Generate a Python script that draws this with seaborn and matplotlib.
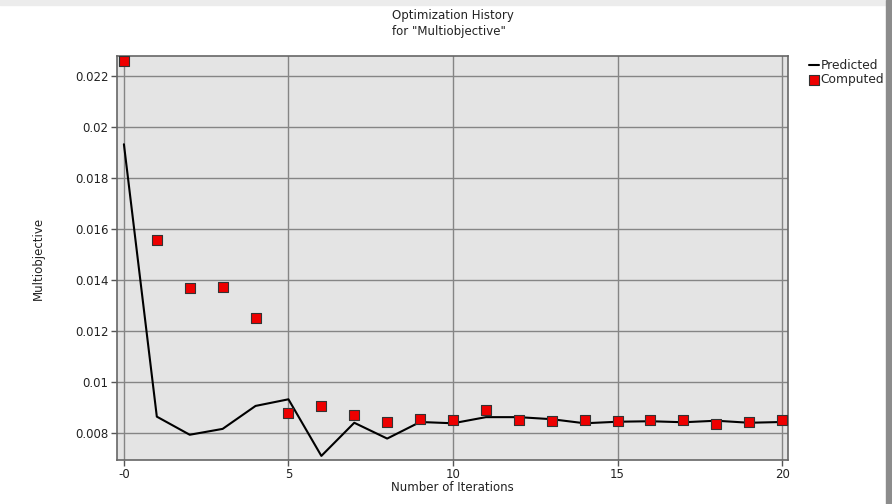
import matplotlib
matplotlib.use("Agg")
import matplotlib.pyplot as plt
import seaborn as sns
import pandas as pd
from matplotlib.patches import Rectangle

iterations = list(range(21))
predicted = [0.01932, 0.00864, 0.00793, 0.00816, 0.00906, 0.00932, 0.0071, 0.0084,
             0.00778, 0.00843, 0.00838, 0.00862, 0.00862, 0.00854, 0.00838, 0.00844,
             0.00846, 0.00842, 0.00848, 0.0084, 0.00843]
computed = [0.0226, 0.01558, 0.01367, 0.01371, 0.01251, 0.0088, 0.00906, 0.00869,
            0.00842, 0.00856, 0.0085, 0.00891, 0.00852, 0.00847, 0.00852, 0.00846,
            0.00852, 0.0085, 0.00837, 0.00843, 0.0085]
x_ticks = [0, 5, 10, 15, 20]
x_tick_labels = ["-0", "5", "10", "15", "20"]
y_ticks = [0.008, 0.010, 0.012, 0.014, 0.016, 0.018, 0.020, 0.022]
y_tick_labels = ["0.008", "0.01", "0.012", "0.014", "0.016", "0.018", "0.02", "0.022"]

df = pd.DataFrame({"Iteration": iterations, "Predicted": predicted, "Computed": computed})

sns.set_style("white")
plt.rcParams["font.family"] = ["DejaVu Sans"]
plt.rcParams["font.size"] = 8.5

fig = plt.figure(figsize=(8.92, 5.04), dpi=100)
fig.patch.set_facecolor("white")
ax = fig.add_axes([117 / 892, 1 - 460 / 504, (788 - 117) / 892, (460 - 56) / 504])
ax.set_facecolor("#e4e4e4")

sns.lineplot(data=df, x="Iteration", y="Predicted", ax=ax, color="black",
             linewidth=1.5, label="Predicted", zorder=3)
sns.scatterplot(data=df, x="Iteration", y="Computed", ax=ax, marker="s", s=45,
                color="#ee0000", edgecolor="#333333", linewidth=0.8,
                label="Computed", zorder=4)

ax.set_xlim(-0.21, 20.18)
ax.set_ylim(0.00694, 0.02278)
ax.set_xticks(x_ticks)
ax.set_xticklabels(x_tick_labels)
ax.set_yticks(y_ticks)
ax.set_yticklabels(y_tick_labels)
ax.grid(True, color="#858585", linewidth=1.0)
ax.set_axisbelow(True)
ax.tick_params(axis="both", direction="out", length=4, width=1, color="#555555",
               labelsize=8.5, labelcolor="#222222", left=True, bottom=True, pad=2)
for sp in ax.spines.values():
    sp.set_color("#666666")
    sp.set_linewidth(1.2)

ax.set_xlabel("Number of Iterations", fontsize=8.5, color="#222222", labelpad=0)
ax.set_ylabel("Multiobjective", fontsize=8.5, color="#222222", labelpad=22)
fig.text(392 / 892, 1 - 23.5 / 504, "Optimization History\nfor \"Multiobjective\"",
         fontsize=8.5, color="#222222", ha="left", va="center", linespacing=1.2)

leg = ax.legend(loc="upper left", bbox_to_anchor=(1.024, 1.005), frameon=False,
                fontsize=8.8, handlelength=0.8, handletextpad=0.15, borderaxespad=0.0,
                labelspacing=0.1, markerscale=1.1)

# screenshot edges
fig.patches.append(Rectangle((0, 1 - 5 / 504), 1, 5 / 504, transform=fig.transFigure,
                             color="#ececec", zorder=0))
fig.patches.append(Rectangle((886 / 892, 0), 6 / 892, 1, transform=fig.transFigure,
                             color="#8c8c8c", zorder=0))

fig.savefig("out.png", dpi=100)
